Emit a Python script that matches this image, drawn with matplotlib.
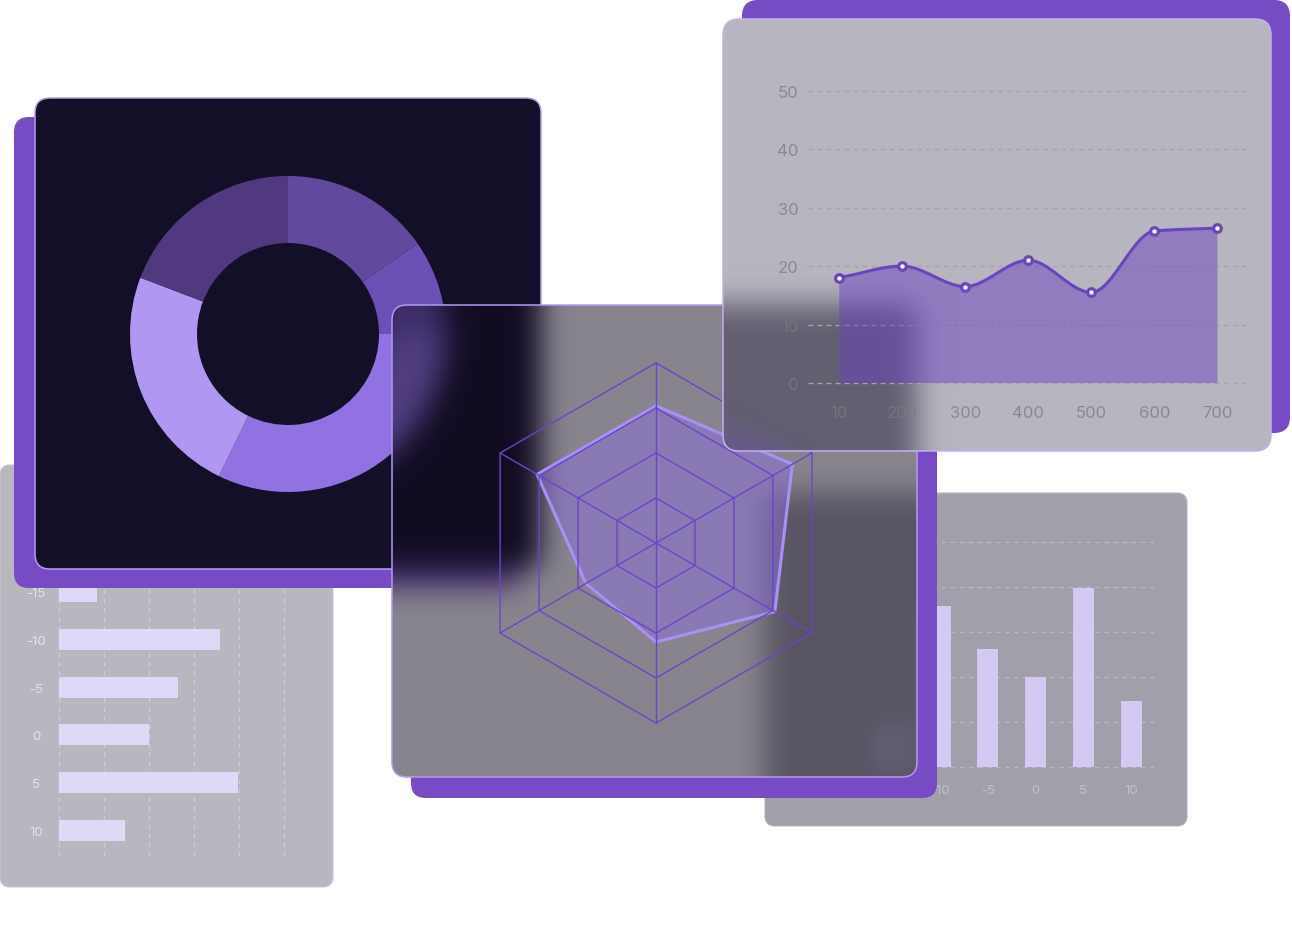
import numpy as np
import matplotlib
matplotlib.use("Agg")
import matplotlib.pyplot as plt
from matplotlib.patches import FancyBboxPatch, Polygon, PathPatch
from matplotlib.path import Path

plt.rcParams["font.family"] = ["Inter", "DejaVu Sans"]

W, H = 1292, 953

# data
bar_labels = ["-15", "-10", "-5", "0", "5", "10"]
bar_values = [0.83, 3.58, 2.64, 2.0, 3.98, 1.47]

donut_values = [15.3, 9.7, 32.2, 23.6, 19.2]
donut_colors = ["#614a9e", "#6b50b6", "#9072e3", "#b098f2", "#51397f"]

radar_values = [3.05, 3.5, 3.05, 2.2, 1.8, 3.05]
radar_rings = [1, 2, 3, 4]

line_labels = ["10", "200", "300", "400", "500", "600", "700"]
line_values = [18, 20, 16.5, 21, 15.5, 26, 26.5]

PURPLE = "#764bc4"

fig = plt.figure(figsize=(W / 100, H / 100), dpi=100, facecolor="white")


def px_axes(x0, y0, x1, y1, z):
    ax = fig.add_axes([x0 / W, 1 - y1 / H, (x1 - x0) / W, (y1 - y0) / H], zorder=z)
    ax.patch.set_visible(False)
    return ax


def layer(z):
    ax = px_axes(0, 0, W, H, z)
    ax.set_xlim(0, W)
    ax.set_ylim(H, 0)
    ax.axis("off")
    return ax


def card(ax, x0, y0, x1, y1, r, fc, ec="none", lw=0, alpha=1, z=1):
    p = FancyBboxPatch((x0 + r, y0 + r), x1 - x0 - 2 * r, y1 - y0 - 2 * r,
                       boxstyle=f"round,pad={r}", fc=fc, ec=ec, lw=lw,
                       alpha=alpha, zorder=z)
    ax.add_patch(p)
    return p


def box_blur(a, r, axis):
    pad = [(0, 0)] * a.ndim
    pad[axis] = (r + 1, r)
    c = np.cumsum(np.pad(a, pad, mode="edge"), axis=axis)
    n = a.shape[axis]
    hi = np.take(c, np.arange(2 * r + 1, n + 2 * r + 1), axis=axis)
    lo = np.take(c, np.arange(0, n), axis=axis)
    return (hi - lo) / (2 * r + 1)


def snapshot_blur(r=13):
    fig.canvas.draw()
    img = np.asarray(fig.canvas.buffer_rgba())[..., :3].astype(float) / 255
    for _ in range(3):
        img = box_blur(box_blur(img, r, 0), r, 1)
    return np.clip(img, 0, 1)


def glass(ax, img, box, r, tint, alpha, ec):
    clip = card(ax, *box, r, fc="none", z=0)
    im = ax.imshow(img, extent=(0, W, H, 0), interpolation="nearest", zorder=2)
    im.set_clip_path(clip)
    ax.set_aspect("auto")
    ax.set_xlim(0, W)
    ax.set_ylim(H, 0)
    card(ax, *box, r, fc=tint, alpha=alpha, z=3)
    card(ax, *box, r, fc="none", ec=ec, lw=1.1, z=4)


# bottom-left horizontal bars
l1 = layer(1)
card(l1, 0, 466, 333, 888, 10, "#b8b7c0", ec="#c9c7d0", lw=0.8)

axh = px_axes(56.3, 470, 287, 857, 2)
yy = np.arange(len(bar_values))
axh.barh(yy, bar_values, height=0.44, color="#dfd8f7", zorder=3)
axh.set_xlim(-3 / 45, 5 + 3 / 45)
axh.set_ylim(5.534, -2.57)
axh.set_xticks(range(6))
axh.set_yticks(yy, bar_labels)
axh.grid(axis="x", color="#cdcbd4", ls=(0, (3.5, 3)), lw=1)
axh.set_axisbelow(True)
for s in axh.spines.values():
    s.set_visible(False)
axh.tick_params(axis="x", length=0, labelbottom=False)
axh.tick_params(axis="y", length=0, pad=14.5, labelcolor="#e6e3ee", labelsize=9.5)
for t in axh.get_yticklabels():
    t.set_ha("center")

# donut card
l2 = layer(3)
card(l2, 14, 118, 520, 589, 15, PURPLE)
card(l2, 35, 99, 541, 570, 15, "#140f29", ec="#b49bf4", lw=1.1)

axd = px_axes(288 - 165, 335 - 165, 288 + 165, 335 + 165, 4)
axd.pie(donut_values, colors=donut_colors, startangle=90, counterclock=False,
        radius=1, wedgeprops=dict(width=0.424, edgecolor="none"))
axd.set_xlim(-165 / 158, 165 / 158)
axd.set_ylim(-165 / 158, 165 / 158)

# bottom-right vertical bars
l3 = layer(5)
card(l3, 765, 494, 1187, 827, 10, "#a19fa9", ec="#b6b4bd", lw=0.8)

axv = px_axes(860, 538.3, 1157, 771.3, 6)
xx = np.arange(len(bar_values))
axv.bar(xx, bar_values, width=0.44, color="#d4c9f3", zorder=3)
axv.set_xlim(-0.683, 5.543)
axv.set_ylim(-3 / 45, 5 + 5 / 45)
axv.set_yticks(range(6))
axv.set_xticks(xx, bar_labels)
axv.grid(axis="y", color="#b8b6bf", ls=(0, (3.5, 3)), lw=1)
axv.set_axisbelow(True)
for s in axv.spines.values():
    s.set_visible(False)
axv.tick_params(axis="y", length=0, labelleft=False)
axv.tick_params(axis="x", length=0, pad=10, labelcolor="#c3c0ca", labelsize=9.5)

# radar glass card
blur1 = snapshot_blur()
l4 = layer(7)
radar_shadow = card(l4, 411, 326, 937, 799, 15, PURPLE, z=1)
glass(l4, blur1, (392, 306, 917, 778), 15, "#110b1f", 0.5, "#b39af2")

axr = px_axes(656 - 200, 544 - 200, 656 + 200, 544 + 200, 8)
ang = np.deg2rad(90 - 60 * np.arange(6))
ca, sa = np.cos(ang), np.sin(ang)
for ring in radar_rings:
    axr.plot(np.append(ring * ca, ring * ca[0]), np.append(ring * sa, ring * sa[0]),
             color="#6b45c4", lw=1)
for c, s in zip(ca, sa):
    axr.plot([0, radar_rings[-1] * c], [0, radar_rings[-1] * s], color="#6b45c4", lw=1)
rv = np.array(radar_values)
axr.add_patch(Polygon(np.column_stack([rv * ca, rv * sa]), closed=True,
                      fc="#8c6ee6", alpha=0.45, ec="none"))
axr.add_patch(Polygon(np.column_stack([rv * ca, rv * sa]), closed=True,
                      fc="none", ec="#a890f5", lw=2.2, joinstyle="round"))
axr.set_xlim(-200 / 45, 200 / 45)
axr.set_ylim(-200 / 45, 200 / 45)
axr.axis("off")

# line chart glass card (radar shadow kept out of the blur)
radar_shadow.set_visible(False)
blur2 = snapshot_blur()
radar_shadow.set_visible(True)
l5 = layer(9)
card(l5, 742, 1, 1290, 434, 16, PURPLE, z=1)
glass(l5, blur2, (723, 20, 1271, 452), 16, "#120c2d", 0.3, "#c4aff2")

axl = px_axes(807.7, 88, 1248.9, 387, 10)
xs = np.arange(len(line_values))
ys = np.array(line_values, dtype=float)
d = np.diff(ys)
m = np.zeros(len(ys))
m[0], m[-1] = d[0], d[-1]
for k in range(1, len(ys) - 1):
    if d[k - 1] * d[k] > 0:
        m[k] = 2 / (1 / d[k - 1] + 1 / d[k])
verts = [(xs[0], ys[0])]
codes = [Path.MOVETO]
for k in range(len(ys) - 1):
    verts += [(xs[k] + 1 / 3, ys[k] + m[k] / 3),
              (xs[k + 1] - 1 / 3, ys[k + 1] - m[k + 1] / 3),
              (xs[k + 1], ys[k + 1])]
    codes += [Path.CURVE4] * 3
area = Path(verts + [(xs[-1], 0), (xs[0], 0), (xs[0], ys[0])],
            codes + [Path.LINETO, Path.LINETO, Path.CLOSEPOLY])
axl.add_patch(PathPatch(area, fc="#6a45c0", alpha=0.5, ec="none", zorder=2))
axl.add_patch(PathPatch(Path(verts, codes), fc="none", ec="#6a45c0", lw=2.2, zorder=3))
axl.plot(xs, ys, "o", ms=5.5, mfc="white", mec="#6a45c0", mew=2.3, zorder=5)
axl.set_xlim(-0.5, 6.5)
axl.set_ylim(-0.513, 50.63)
axl.set_xticks(xs, line_labels)
axl.set_yticks(range(0, 51, 10))
axl.grid(axis="y", color="#a5a3ae", ls=(0, (3.5, 3)), lw=1)
axl.set_axisbelow(True)
for s in axl.spines.values():
    s.set_visible(False)
axl.tick_params(length=0, labelsize=12, labelcolor="#7b7887")
axl.tick_params(axis="x", pad=13.5)
axl.tick_params(axis="y", pad=6.5)
for t in axl.get_xticklabels() + axl.get_yticklabels():
    t.set_alpha(0.75)

fig.savefig("out.png", dpi=100, facecolor="white")
